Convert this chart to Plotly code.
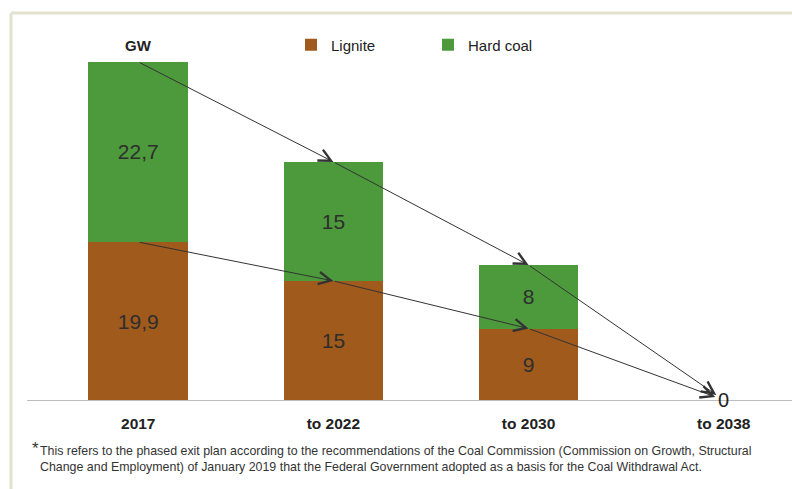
import plotly.graph_objects as go

# Installed coal-fired capacity (GW) and the phased exit path
categories = ["2017", "to 2022", "to 2030", "to 2038"]
lignite = [19.9, 15, 9, 0]
hard_coal = [22.7, 15, 8, 0]
totals = [a + b for a, b in zip(lignite, hard_coal)]

footnote = ("This refers to the phased exit plan according to the recommendations of the Coal Commission "
            "(Commission on Growth, Structural<br>Change and Employment) of January 2019 that the Federal "
            "Government adopted as a basis for the Coal Withdrawal Act.")

BROWN = "#A05A1C"
GREEN = "#4C9A3C"
TEXT = "#2e2e2e"
FRAME = "#e2e2cf"
SANS = "Liberation Sans, Arial, sans-serif"

W, H = 792, 489
M_L, M_R, M_T, M_B = 27, 0, 19, 89
Y_MAX = 48
X_RANGE = [-0.57, 3.35]


def px_x(p):
    """Pixel column -> paper x."""
    return (p - M_L) / (W - M_L - M_R)


def px_y(p):
    """Pixel row -> paper y."""
    return (H - M_B - p) / (H - M_T - M_B)


def fmt(v):
    return f"{v:g}".replace(".", ",") if v else ""


xs = list(range(len(categories)))

fig = go.Figure()
fig.add_bar(
    x=xs, y=lignite, name="Lignite", marker=dict(color=BROWN, line=dict(width=0)),
    width=0.51, text=[fmt(v) for v in lignite], textposition="inside",
    insidetextanchor="middle", textangle=0,
    textfont=dict(family=SANS, size=21, color=TEXT),
    legend="legend", hoverinfo="skip",
)
fig.add_bar(
    x=xs, y=hard_coal, name="Hard coal", marker=dict(color=GREEN, line=dict(width=0)),
    width=0.51, text=[fmt(v) for v in hard_coal], textposition="inside",
    insidetextanchor="middle", textangle=0,
    textfont=dict(family=SANS, size=21, color=TEXT),
    legend="legend2", hoverinfo="skip",
)

annotations = []

# Exit-path arrows along the stack tops (total) and the lignite tops
for series in (totals, lignite):
    for i in range(len(series) - 1):
        last = i == len(series) - 2
        annotations.append(dict(
            x=xs[i + 1], y=series[i + 1], ax=xs[i], ay=series[i],
            xref="x", yref="y", axref="x", ayref="y",
            text="", showarrow=True, arrowhead=5, arrowsize=2.4,
            arrowwidth=1, arrowcolor="#333333",
            standoff=9 if last else 0,
        ))

# Final value at the end of the exit path
annotations.append(dict(
    x=xs[-1], y=totals[-1], xref="x", yref="y", text=f"{totals[-1]:g}",
    showarrow=False, yanchor="middle",
    font=dict(family=SANS, size=20, color="#222222"),
))

# Unit label
annotations.append(dict(
    x=xs[0], y=px_y(45), xref="x", yref="paper", text="<b>GW</b>", showarrow=False,
    yanchor="middle",
    font=dict(family=SANS, size=15, color="#222222"),
))

# Footnote
annotations.append(dict(
    x=px_x(30), y=px_y(448), xref="paper", yref="paper", text="*", showarrow=False,
    xanchor="left", yanchor="middle",
    font=dict(family=SANS, size=17, color="#333333"),
))
annotations.append(dict(
    x=px_x(38), y=px_y(459), xref="paper", yref="paper", text=footnote, showarrow=False,
    xanchor="left", yanchor="middle", align="left",
    font=dict(family=SANS, size=12.4, color="#333333"),
))

# Outer frame (top and left rules)
shapes = [
    dict(type="line", xref="paper", yref="paper", x0=px_x(11), x1=px_x(W), y0=px_y(13), y1=px_y(13),
         line=dict(color=FRAME, width=3)),
    dict(type="line", xref="paper", yref="paper", x0=px_x(11), x1=px_x(11), y0=px_y(13), y1=px_y(H),
         line=dict(color=FRAME, width=3)),
]

legend_font = dict(family=SANS, size=15, color="#222222")
fig.update_layout(
    width=W, height=H,
    margin=dict(l=M_L, r=M_R, t=M_T, b=M_B),
    paper_bgcolor="white", plot_bgcolor="white",
    barmode="stack",
    showlegend=True,
    legend=dict(x=px_x(291), y=px_y(45), xanchor="left", yanchor="middle",
                font=legend_font, bgcolor="rgba(0,0,0,0)", itemclick=False),
    legend2=dict(x=px_x(428), y=px_y(45), xanchor="left", yanchor="middle",
                 font=legend_font, bgcolor="rgba(0,0,0,0)", itemclick=False),
    xaxis=dict(
        range=X_RANGE, tickmode="array", tickvals=xs,
        ticktext=[f"<b>{c}</b>" for c in categories],
        tickfont=dict(family=SANS, size=15.5, color="#222222"),
        showline=True, linecolor="#bdbdbd", linewidth=1,
        ticks="outside", ticklen=9, tickcolor="rgba(0,0,0,0)",
        showgrid=False, zeroline=False, fixedrange=True,
    ),
    yaxis=dict(range=[0, Y_MAX], visible=False, showgrid=False, zeroline=False, fixedrange=True),
    annotations=annotations,
    shapes=shapes,
)

fig.write_html("out.html", config={"displayModeBar": False})
